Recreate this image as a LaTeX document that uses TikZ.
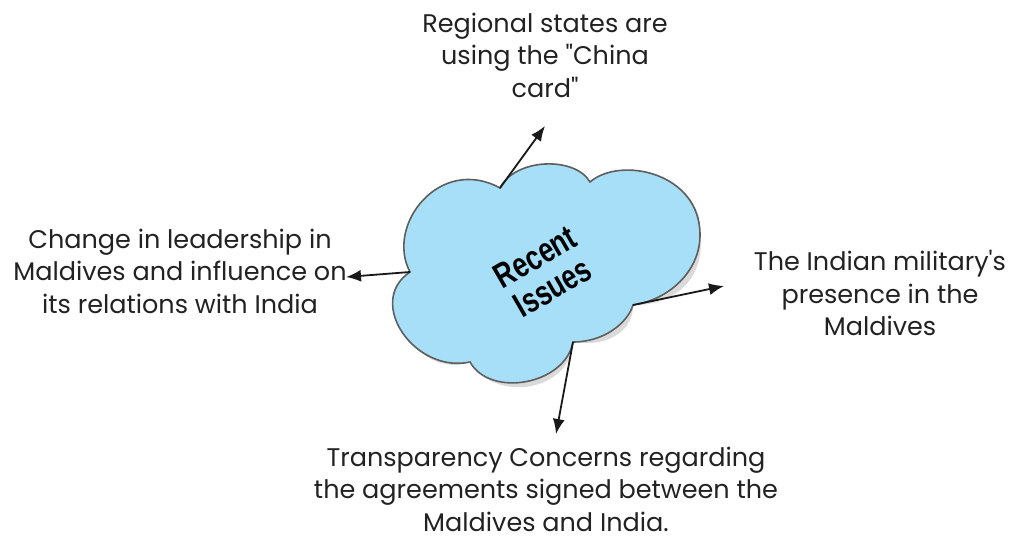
\documentclass[tikz,border=0pt]{standalone}
\usepackage{fontspec}
\setmainfont{Poppins}
\newfontfamily\condfont{Liberation Sans}[FakeStretch=0.76]
\usetikzlibrary{arrows.meta}
\definecolor{cloudfill}{HTML}{A8DFF8}
\definecolor{cloudline}{HTML}{5E5E5E}
\definecolor{shadowc}{HTML}{DADADA}
\definecolor{txt}{HTML}{222222}
\tikzset{
  lbl/.style={align=center, text=txt, font=\fontsize{25.5}{32.5}\selectfont, inner sep=0pt},
  conn/.style={draw=black!90, line width=1.8pt, -{Latex[length=15pt,width=12pt]}},
}
\begin{document}
\begin{tikzpicture}[x=1pt,y=-1pt]
\useasboundingbox (0,0) rectangle (1019,541);
\coordinate (n1) at (500,188);
\coordinate (n2) at (590,182);
\coordinate (r)  at (700,235);
\coordinate (n3) at (633,305);
\coordinate (n4) at (573,342);
\coordinate (n5) at (470,362);
\coordinate (n6) at (410,272);
\def\cloudpath{(n1) .. controls (515,158) and (575,156) .. (n2)
  .. controls (620,156) and (700,172) .. (r)
  .. controls (700,272) and (668,300) .. (n3)
  .. controls (628,322) and (605,342) .. (n4)
  .. controls (565,385) and (490,398) .. (n5)
  .. controls (415,374) and (365,302) .. (n6)
  .. controls (385,225) and (440,155) .. (n1) -- cycle}
\fill[shadowc, shift={(6,6)}] \cloudpath;
\filldraw[fill=cloudfill, draw=cloudline, line width=1.6pt] \cloudpath;
\node[rotate=30, align=center, font=\condfont\bfseries\fontsize{35}{35}\selectfont, inner sep=0pt] (ri) at (544,272) {Recent\\Issues};
\node[lbl] (top) at (545,55) {Regional states are\\using the \textquotedbl China\\card\textquotedbl};
\node[lbl] (left) at (180,271) {Change in leadership in\\Maldives and influence on\\its relations with India};
\node[lbl] (right) at (880,293) {The Indian military\textquotesingle s\\presence in the\\Maldives};
\node[lbl] (bot) at (546,489) {Transparency Concerns regarding\\the agreements signed between the\\Maldives and India.};
\coordinate (ta) at (545,126);
\coordinate (la) at (346,277);
\coordinate (ra) at (724,286);
\coordinate (ba) at (556,434);
\draw[conn] (n1) -- (ta);
\draw[conn] (n6) -- (la);
\draw[conn] (n3) -- (ra);
\draw[conn] (n4) -- (ba);
\end{tikzpicture}
\end{document}
